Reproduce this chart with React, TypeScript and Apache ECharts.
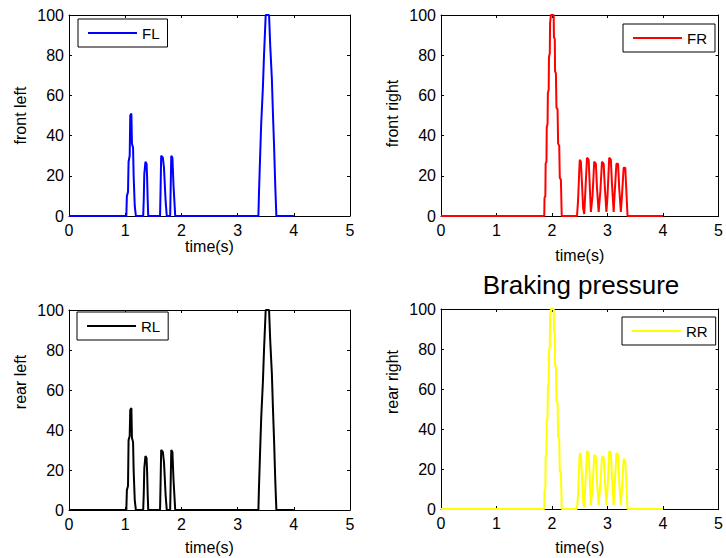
import React, { useEffect, useRef } from "react";
import * as echarts from "echarts";

const FONT = "'Liberation Sans', Arial, Helvetica, sans-serif";

const timeMin = 0;
const timeMax = 5;
const timeStep = 1;
const pressureMin = 0;
const pressureMax = 100;
const pressureStep = 20;

const seriesNames = ["FL", "FR", "RL", "RR"];
const seriesColors = ["#0000ff", "#ff0000", "#000000", "#ffff00"];
const yAxisNames = ["front left", "front right", "rear left", "rear right"];
const xAxisName = "time(s)";
const titleText = "Braking pressure";

// [time (s), pressure]
const flData: number[][] = [
  [0, 0], [1.02, 0], [1.03, 10], [1.05, 12], [1.06, 27], [1.08, 30], [1.09, 50], [1.11, 51],
  [1.12, 36], [1.14, 34], [1.15, 20], [1.17, 5], [1.19, 0],
  [1.32, 0], [1.33, 8], [1.34, 21], [1.36, 27], [1.38, 26], [1.39, 19], [1.40, 8], [1.41, 0],
  [1.62, 0], [1.63, 14], [1.64, 30], [1.67, 29], [1.69, 24], [1.72, 7], [1.74, 0],
  [1.80, 0], [1.81, 15], [1.82, 30], [1.84, 29], [1.86, 15], [1.89, 0],
  [3.37, 0], [3.38, 11], [3.40, 29], [3.42, 46], [3.45, 64], [3.47, 80], [3.50, 100], [3.56, 100],
  [3.58, 85], [3.61, 68], [3.63, 50], [3.65, 34], [3.67, 15], [3.69, 0], [4, 0],
];

const frData: number[][] = [
  [0, 0], [1.86, 0], [1.865, 9], [1.88, 10], [1.885, 26], [1.90, 27], [1.905, 44], [1.92, 46],
  [1.925, 61], [1.94, 63], [1.945, 79], [1.96, 81], [1.965, 96], [1.98, 100], [2.03, 100],
  [2.035, 89], [2.05, 88], [2.055, 72], [2.07, 71], [2.08, 54], [2.10, 53], [2.11, 36], [2.13, 35],
  [2.14, 19], [2.16, 18], [2.175, 0],
  [2.45, 0], [2.47, 8], [2.49, 22], [2.50, 28], [2.52, 27], [2.54, 16], [2.56, 4], [2.58, 1],
  [2.60, 12], [2.63, 29], [2.66, 28], [2.68, 15], [2.70, 2],
  [2.73, 10], [2.76, 27], [2.79, 26], [2.81, 14], [2.84, 2],
  [2.87, 12], [2.90, 27], [2.93, 26], [2.95, 15], [2.98, 2],
  [3.00, 10], [3.03, 29], [3.06, 28], [3.08, 16], [3.11, 2],
  [3.13, 12], [3.16, 26], [3.19, 26], [3.21, 14], [3.24, 2],
  [3.26, 10], [3.29, 24], [3.32, 24], [3.34, 12], [3.36, 0], [4, 0],
];

const rlData: number[][] = [
  [0, 0], [1.02, 0], [1.03, 10], [1.05, 12], [1.06, 35], [1.08, 37], [1.09, 50], [1.11, 51],
  [1.12, 36], [1.14, 34], [1.15, 20], [1.17, 5], [1.19, 0],
  [1.32, 0], [1.33, 8], [1.34, 21], [1.36, 27], [1.38, 26], [1.39, 19], [1.40, 8], [1.41, 0],
  [1.62, 0], [1.63, 14], [1.64, 30], [1.67, 29], [1.69, 24], [1.72, 7], [1.74, 0],
  [1.80, 0], [1.81, 15], [1.82, 30], [1.84, 29], [1.86, 15], [1.89, 0],
  [3.37, 0], [3.38, 11], [3.40, 29], [3.42, 46], [3.45, 64], [3.47, 80], [3.50, 100], [3.56, 100],
  [3.58, 85], [3.61, 68], [3.63, 50], [3.65, 34], [3.67, 15], [3.69, 0], [4, 0],
];

const rrData: number[][] = [
  [0, 0], [1.86, 0], [1.865, 9], [1.88, 10], [1.885, 26], [1.90, 27], [1.905, 44], [1.92, 46],
  [1.925, 61], [1.94, 63], [1.945, 79], [1.96, 81], [1.965, 96], [1.98, 100], [2.03, 100],
  [2.035, 89], [2.05, 88], [2.055, 72], [2.07, 71], [2.08, 54], [2.10, 53], [2.11, 36], [2.13, 35],
  [2.14, 19], [2.16, 18], [2.175, 0],
  [2.45, 0], [2.47, 8], [2.49, 22], [2.50, 28], [2.52, 27], [2.54, 16], [2.56, 4], [2.58, 1],
  [2.60, 12], [2.63, 29], [2.66, 28], [2.68, 15], [2.70, 2],
  [2.73, 10], [2.76, 27], [2.79, 26], [2.81, 14], [2.84, 2],
  [2.87, 12], [2.90, 26], [2.93, 26], [2.95, 15], [2.98, 2],
  [3.00, 10], [3.03, 29], [3.06, 28], [3.08, 16], [3.11, 2],
  [3.13, 12], [3.16, 28], [3.19, 27], [3.21, 14], [3.24, 2],
  [3.26, 10], [3.29, 25], [3.32, 24], [3.34, 12], [3.36, 0], [4, 0],
];

const allData = [flData, frData, rlData, rrData];

const gridBoxes = [
  { left: 69, top: 15, width: 281, height: 201 },
  { left: 441, top: 15, width: 281, height: 201 },
  { left: 69, top: 310, width: 281, height: 200 },
  { left: 441, top: 309, width: 281, height: 200 },
];
const xNameGaps = [20, 31, 29, 30];
// shift of the y-axis name along the axis (px, upward)
const yNameShift = [0, 2, 28, 27];
const legendPos = [
  { left: 78, top: 19 },
  { left: 623, top: 24 },
  { left: 77, top: 312 },
  { left: 622, top: 317 },
];

const black = "#000";
const textBase = { color: black, fontFamily: FONT, fontSize: 16 };

function buildOption() {
  const xAxis: any[] = [];
  const yAxis: any[] = [];
  const series: any[] = [];
  const legend: any[] = [];
  gridBoxes.forEach((_, i) => {
    const tick = { show: true, inside: true, length: 3, lineStyle: { color: black, width: 1 } };
    const line = { show: true, onZero: false, lineStyle: { color: black, width: 1 } };
    xAxis.push({
      gridIndex: i, type: "value", position: "bottom",
      min: timeMin, max: timeMax, interval: timeStep,
      name: xAxisName, nameLocation: "middle", nameGap: xNameGaps[i],
      nameTextStyle: { ...textBase },
      axisLine: line, axisTick: tick,
      axisLabel: { ...textBase, margin: 6 },
      splitLine: { show: false },
    });
    xAxis.push({
      gridIndex: i, type: "value", position: "top",
      min: timeMin, max: timeMax, interval: timeStep,
      axisLine: line, axisTick: tick, axisLabel: { show: false }, splitLine: { show: false },
    });
    yAxis.push({
      gridIndex: i, type: "value", position: "left",
      min: pressureMin, max: pressureMax, interval: pressureStep,
      name: yAxisNames[i], nameLocation: "middle", nameGap: 41,
      nameTextStyle: { ...textBase, padding: [0, 0, 0, yNameShift[i] * 2] },
      axisLine: line, axisTick: tick,
      axisLabel: { ...textBase, margin: 5 },
      splitLine: { show: false },
    });
    yAxis.push({
      gridIndex: i, type: "value", position: "right",
      min: pressureMin, max: pressureMax, interval: pressureStep,
      axisLine: line, axisTick: tick, axisLabel: { show: false }, splitLine: { show: false },
    });
    series.push({
      name: seriesNames[i], type: "line",
      xAxisIndex: 2 * i, yAxisIndex: 2 * i,
      data: allData[i], symbol: "none", showSymbol: false,
      lineStyle: { color: seriesColors[i], width: 2 },
      itemStyle: { color: seriesColors[i] },
      clip: true,
    });
    legend.push({
      data: [seriesNames[i]],
      left: legendPos[i].left, top: legendPos[i].top,
      icon: "rect",
      itemWidth: 49, itemHeight: 2,
      padding: [6, 8, 6, 10],
      borderColor: black, borderWidth: 1, backgroundColor: "#fff",
      textStyle: { ...textBase, fontSize: 15, lineHeight: 16 },
      selectedMode: false,
    });
  });
  return {
    animation: false,
    backgroundColor: "#fff",
    title: {
      text: titleText,
      left: 581, top: 272, textAlign: "center", padding: 0,
      textStyle: { color: black, fontFamily: FONT, fontSize: 26, fontWeight: "normal" },
    },
    grid: gridBoxes.map((g) => ({ ...g, containLabel: false })),
    xAxis, yAxis, series, legend,
  };
}

export default function App() {
  const ref = useRef<HTMLDivElement>(null);
  useEffect(() => {
    if (!ref.current) return;
    const chart = echarts.init(ref.current, undefined, { renderer: "svg" });
    chart.setOption(buildOption() as any);
    return () => chart.dispose();
  }, []);
  return (
    <div
      ref={ref}
      style={{ position: "fixed", left: 0, top: 0, width: 726, height: 558, background: "#fff" }}
    />
  );
}
